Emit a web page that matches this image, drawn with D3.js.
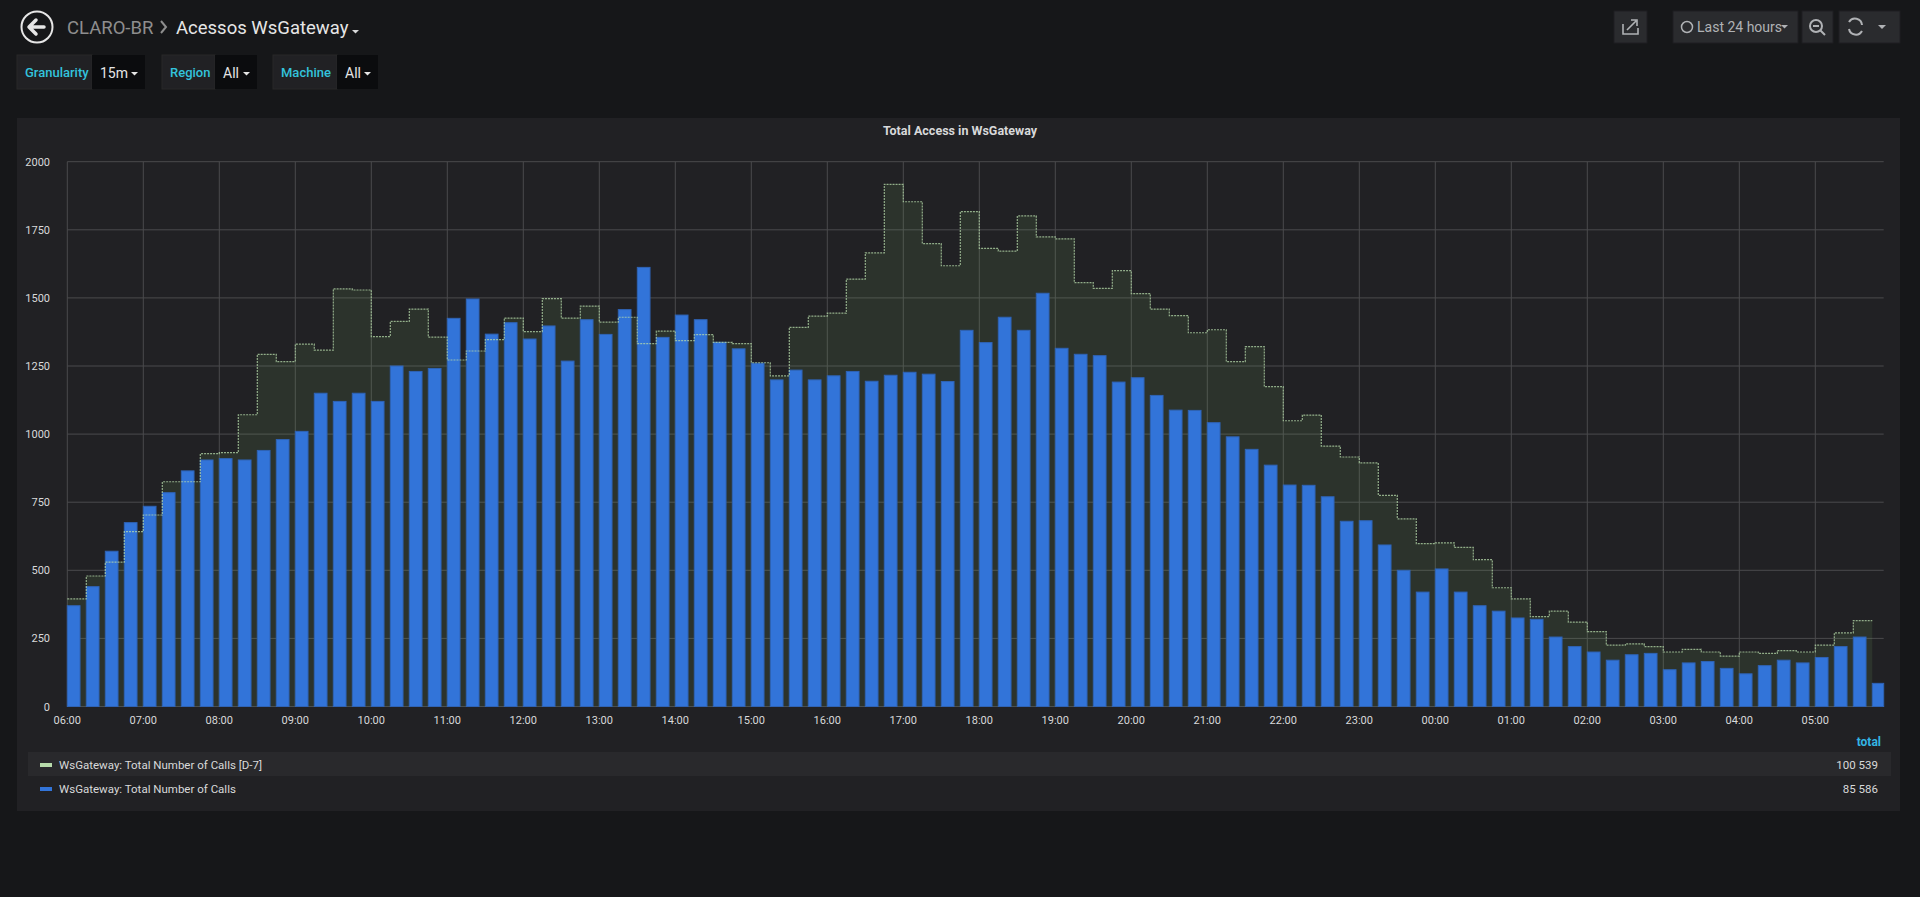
<!DOCTYPE html>
<html>
<head>
<meta charset="utf-8">
<script src="https://cdn.jsdelivr.net/npm/d3@7"></script>
<style>
  body { margin: 0; background: #161719; font-family: Roboto, "Open Sans", sans-serif; overflow: hidden; }
  svg { display: block; }
</style>
</head>
<body>
<svg id="chart" width="1920" height="897"></svg>
<script>
// Values, one per 15 minute bucket from 06:00.
const calls = [370, 440, 570, 675, 735, 785, 865, 905, 910, 905, 940, 980, 1010, 1150, 1120, 1150,
  1120, 1250, 1230, 1241, 1425, 1496, 1367, 1409, 1349, 1397, 1268, 1420, 1366, 1457, 1612, 1355,
  1437, 1420, 1337, 1313, 1260, 1199, 1235, 1199, 1214, 1230, 1194, 1216, 1227, 1220, 1193, 1381,
  1336, 1429, 1381, 1517, 1315, 1293, 1288, 1191, 1207, 1142, 1088, 1087, 1042, 990, 944, 886,
  813, 812, 770, 680, 682, 593, 500, 420, 505, 420, 370, 350, 325, 320, 255, 220,
  200, 170, 190, 195, 135, 160, 165, 140, 120, 150, 170, 160, 180, 220, 255, 85]
const callsD7 = [395, 479, 530, 642, 703, 825, 825, 928, 932, 1071, 1293, 1266, 1330, 1308, 1533, 1529,
  1358, 1414, 1459, 1356, 1272, 1305, 1347, 1426, 1376, 1497, 1426, 1470, 1411, 1429, 1332, 1378,
  1343, 1365, 1337, 1332, 1262, 1214, 1392, 1433, 1444, 1569, 1665, 1917, 1853, 1699, 1618, 1817,
  1682, 1672, 1801, 1724, 1717, 1556, 1535, 1600, 1516, 1459, 1435, 1372, 1383, 1266, 1321, 1174,
  1049, 1070, 956, 916, 894, 775, 689, 598, 601, 584, 539, 436, 395, 330, 350, 310,
  275, 225, 230, 220, 200, 210, 200, 185, 200, 195, 205, 200, 225, 270, 315]
const hourLabels = ['06:00', '07:00', '08:00', '09:00', '10:00', '11:00', '12:00', '13:00', '14:00', '15:00',
  '16:00', '17:00', '18:00', '19:00', '20:00', '21:00', '22:00', '23:00', '00:00', '01:00',
  '02:00', '03:00', '04:00', '05:00']
const yTicks = [0, 250, 500, 750, 1000, 1250, 1500, 1750, 2000]
const seriesNames = ['WsGateway: Total Number of Calls [D-7]', 'WsGateway: Total Number of Calls']
const seriesTotals = ['100 539', '85 586']

const svg = d3.select('#chart')

// Header
const head = svg.append('g')
head.append('circle').attr('cx', 37).attr('cy', 27).attr('r', 15.5)
    .attr('fill', 'none').attr('stroke', '#e6e6e6').attr('stroke-width', 2)
head.append('path').attr('d', 'M30,27 L44,27 M36,20 L29,27 L36,34')
    .attr('fill', 'none').attr('stroke', '#e6e6e6').attr('stroke-width', 3.5)
    .attr('stroke-linecap', 'round').attr('stroke-linejoin', 'round')
head.append('text').attr('x', 67).attr('y', 34).attr('font-size', 18.5).attr('fill', '#8e8e8e').text('CLARO-BR')
head.append('path').attr('d', 'M161,21 L166,27 L161,33').attr('fill', 'none').attr('stroke', '#8e8e8e').attr('stroke-width', 2)
head.append('text').attr('x', 176).attr('y', 34).attr('font-size', 18.5).attr('fill', '#e6e6e6').text('Acessos WsGateway')
head.append('path').attr('d', 'M352,30 L359,30 L355.5,33.5 Z').attr('fill', '#d8d9da')

// Variable selectors
const vars = [
  { label: 'Granularity', value: '15m', x: 17, lw: 75, vw: 53 },
  { label: 'Region', value: 'All', x: 162, lw: 53, vw: 42 },
  { label: 'Machine', value: 'All', x: 273, lw: 64, vw: 41 },
]
vars.forEach(v => {
  const g = svg.append('g').attr('transform', `translate(${v.x},55)`)
  g.append('rect').attr('width', v.lw).attr('height', 34).attr('fill', '#212124').attr('stroke', '#292929')
  g.append('rect').attr('x', v.lw).attr('width', v.vw).attr('height', 34).attr('fill', '#0b0c0e')
  g.append('text').attr('x', 8).attr('y', 22).attr('font-size', 13).attr('font-weight', 500)
      .attr('fill', '#33c3dc').text(v.label)
  g.append('text').attr('x', v.lw + 8).attr('y', 23).attr('font-size', 14).attr('fill', '#e6e6e6').text(v.value)
  g.append('path').attr('d', `M${v.lw + v.vw - 14},17 L${v.lw + v.vw - 7},17 L${v.lw + v.vw - 10.5},20.5 Z`).attr('fill', '#e6e6e6')
})

// Top right buttons
const btns = [[1614, 33], [1673, 125], [1802, 31], [1839, 61]]
btns.forEach(([bx, w]) => svg.append('rect').attr('x', bx).attr('y', 11).attr('width', w).attr('height', 32)
    .attr('fill', '#2a2b2e').attr('stroke', '#1e1f22'))
svg.append('path').attr('d', 'M1623,24 L1623,34 L1638,34 L1638,28 M1627,30 L1636,21 M1631,20 L1637,20 L1637,26')
    .attr('fill', 'none').attr('stroke', '#b0b2b5').attr('stroke-width', 1.6)
svg.append('circle').attr('cx', 1687).attr('cy', 27).attr('r', 5.5).attr('fill', 'none').attr('stroke', '#b0b2b5').attr('stroke-width', 1.5)
svg.append('text').attr('x', 1697).attr('y', 32).attr('font-size', 14).attr('fill', '#b0b2b5').text('Last 24 hours')
svg.append('path').attr('d', 'M1781,25 L1788,25 L1784.5,28.5 Z').attr('fill', '#b0b2b5')
svg.append('circle').attr('cx', 1816).attr('cy', 26).attr('r', 6).attr('fill', 'none').attr('stroke', '#b0b2b5').attr('stroke-width', 2)
svg.append('path').attr('d', 'M1820,30 L1825,35 M1813,26 L1819,26').attr('stroke', '#b0b2b5').attr('stroke-width', 2)
svg.append('path').attr('d', 'M1849,22 A7,7 0 0 1 1862,25 M1862,31 A7,7 0 0 1 1849,29')
    .attr('fill', 'none').attr('stroke', '#b0b2b5').attr('stroke-width', 2)
svg.append('path').attr('d', 'M1878,25 L1886,25 L1882,29 Z').attr('fill', '#b0b2b5')

// Panel
svg.append('rect').attr('x', 17).attr('y', 118).attr('width', 1883).attr('height', 693).attr('fill', '#212124')
svg.append('text').attr('x', 960).attr('y', 135).attr('text-anchor', 'middle').attr('font-size', 12.5)
    .attr('font-weight', 700).attr('fill', '#d8d9da').text('Total Access in WsGateway')

const plotLeft = 67.3, plotTop = 161.7, plotBottom = 706.5
const slot = 19.0
const t0 = new Date(2018, 0, 1, 6, 0)
const step = 15 * 60 * 1000
const plotRight = plotLeft + slot * 95.6
const x = d3.scaleTime()
    .domain([t0, new Date(+t0 + step * 95.6)])
    .range([plotLeft, plotRight])
const y = d3.scaleLinear().domain([0, 2000]).range([plotBottom, plotTop])

// Grid
const grid = svg.append('g')
grid.selectAll('.hg').data(yTicks).join('line')
    .attr('x1', plotLeft).attr('x2', plotRight).attr('y1', d => y(d)).attr('y2', d => y(d))
    .attr('stroke', '#4a4a4d').attr('stroke-width', 1)
const hourTimes = hourLabels.map((d, i) => new Date(+t0 + i * 3600000))
grid.selectAll('.vg').data(hourTimes).join('line')
    .attr('x1', d => x(d)).attr('x2', d => x(d)).attr('y1', plotTop).attr('y2', plotBottom)
    .attr('stroke', '#4a4a4d').attr('stroke-width', 1)

// D-7 series as a filled step line
const d7 = callsD7.map((v, i) => ({ t: new Date(+t0 + i * step), v }))
d7.push({ t: new Date(+t0 + callsD7.length * step), v: callsD7[callsD7.length - 1] })
const area = d3.area().curve(d3.curveStepAfter).x(d => x(d.t)).y0(y(0)).y1(d => y(d.v))
const line = d3.line().curve(d3.curveStepAfter).x(d => x(d.t)).y(d => y(d.v))
svg.append('path').datum(d7).attr('d', area).attr('fill', '#7eb26d').attr('fill-opacity', 0.12)

// Bars
const barW = slot * 0.67
svg.append('g').selectAll('rect').data(calls).join('rect')
    .attr('x', (d, i) => x(new Date(+t0 + i * step)))
    .attr('y', d => y(d))
    .attr('width', (d, i) => Math.min(barW, plotRight - x(new Date(+t0 + i * step))))
    .attr('height', d => plotBottom - y(d))
    .attr('fill', '#3274d9').attr('stroke', '#2f63b5').attr('stroke-width', 1)

svg.append('path').datum(d7).attr('d', line).attr('fill', 'none')
    .attr('stroke', '#b7dbab').attr('stroke-opacity', 0.75).attr('stroke-width', 1.2).attr('stroke-dasharray', '2,1')

// Axes labels
svg.append('g').selectAll('text').data(yTicks).join('text')
    .attr('x', 50).attr('y', d => y(d) + 4).attr('text-anchor', 'end')
    .attr('font-size', 11).attr('fill', '#d8d9da').text(d => d)
svg.append('g').selectAll('text').data(hourLabels).join('text')
    .attr('x', (d, i) => x(hourTimes[i])).attr('y', 724).attr('text-anchor', 'middle')
    .attr('font-size', 11).attr('fill', '#d8d9da').text(d => d)

// Legend
svg.append('text').attr('x', 1881).attr('y', 746).attr('text-anchor', 'end').attr('font-size', 12)
    .attr('font-weight', 700).attr('fill', '#33b5e5').text('total')
const legColors = ['#b7dbab', '#3274d9']
seriesNames.forEach((name, i) => {
  const ly = 765 + i * 24
  if (i === 0) svg.append('rect').attr('x', 28).attr('y', ly - 13).attr('width', 1863).attr('height', 24).attr('fill', '#29292c')
  svg.append('rect').attr('x', 40).attr('y', ly - 2).attr('width', 12).attr('height', 4).attr('fill', legColors[i])
  svg.append('text').attr('x', 59).attr('y', ly + 4).attr('font-size', 11.5).attr('fill', '#d8d9da').text(name)
  svg.append('text').attr('x', 1878).attr('y', ly + 4).attr('text-anchor', 'end').attr('font-size', 11.5)
      .attr('fill', '#d8d9da').text(seriesTotals[i])
})
</script>
</body>
</html>
